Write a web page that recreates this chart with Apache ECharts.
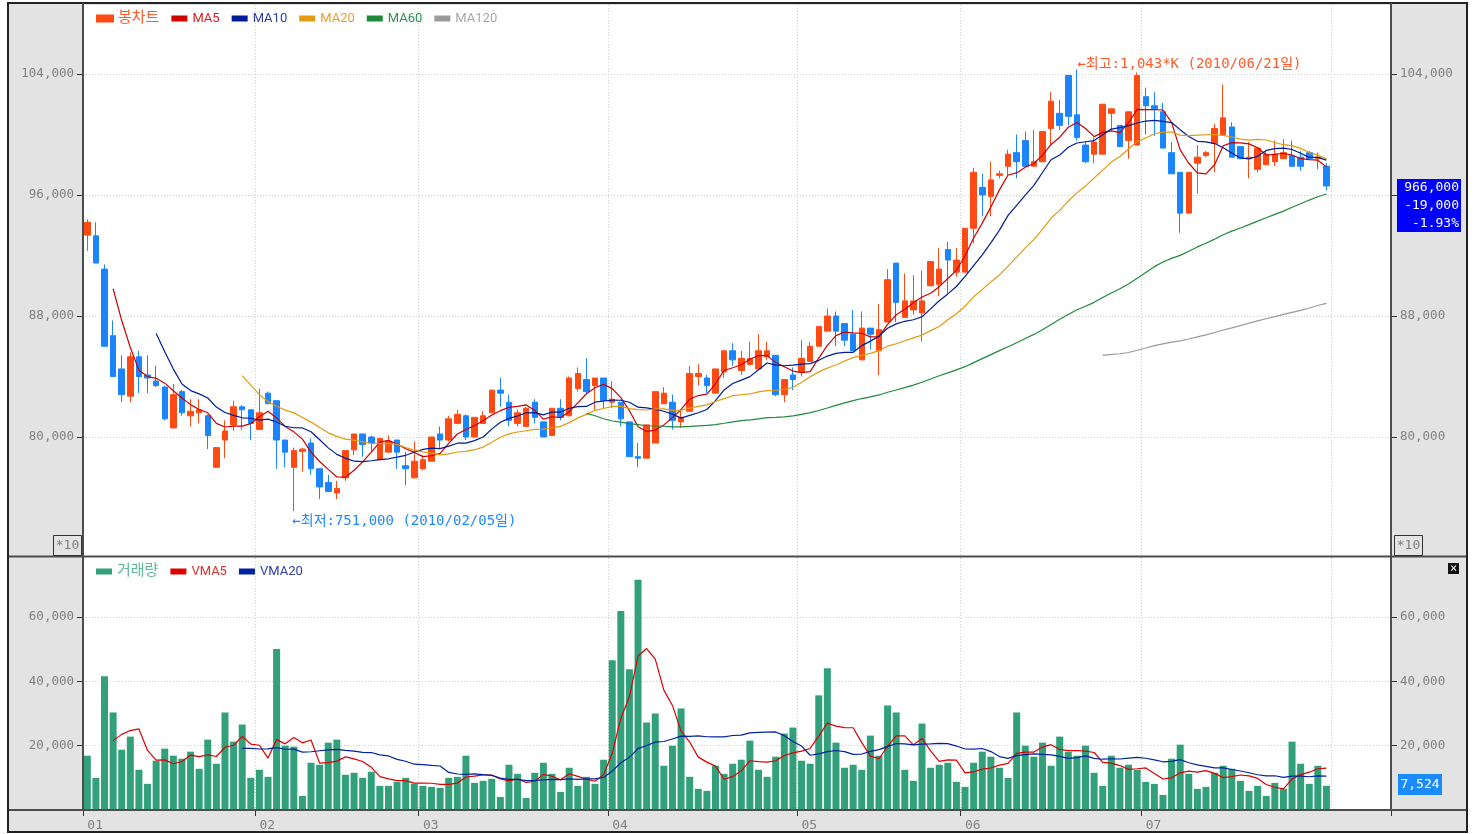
<!DOCTYPE html>
<html>
<head>
<meta charset="utf-8">
<script src="https://cdn.jsdelivr.net/npm/echarts@6/dist/echarts.min.js"></script>
<style>
  html, body { margin: 0; padding: 0; background: #fff; }
  #wrap { position: relative; width: 1476px; height: 834px; }
  #frame { position: absolute; left: 7px; top: 2px; width: 1461px; height: 831px; box-sizing: border-box; border: 2px solid #222; background: #e3e3e3; }
  #chart { position: absolute; left: 0; top: 0; width: 1476px; height: 834px; }
</style>
</head>
<body>
<div id="wrap">
  <div id="frame"></div>
  <div id="chart"></div>
</div>
<script>
// trading days per month (2010.01 - 2010.07), plus empty room on the right
const months = ['01', '02', '03', '04', '05', '06', '07'];
const monthDays = [20, 19, 22, 22, 19, 21, 22];
const padDays = 7;

// last close / volume before the first visible day (used by the moving averages)
const priorClose = 93300;
const priorVolume = 9070;

// [open, close, low, high]
const ohlc = [
  [93350, 94200, 92300, 94400], [93300, 91500, 91500, 94200], [91100, 86000, 86000, 91400], [86700, 84000, 84000, 87700],
  [84500, 82800, 82300, 85400], [82700, 85300, 82300, 85600], [85300, 84000, 82900, 85700], [84100, 83900, 82900, 85400],
  [83700, 83400, 83300, 84700], [83300, 81200, 81100, 83400], [80600, 82800, 80600, 83500], [83000, 81600, 81400, 83100],
  [81400, 81700, 80700, 82500], [81600, 81800, 80900, 82500], [81400, 80100, 79200, 81500], [78000, 79300, 77950, 79300],
  [79800, 80400, 78600, 81100], [80800, 82000, 80400, 82400], [82000, 81800, 80500, 82100], [81800, 80900, 79800, 81800],
  [80500, 81600, 80500, 83200], [82900, 82200, 82200, 83000], [82400, 79800, 77900, 82400], [79800, 79000, 78000, 79800],
  [78000, 79100, 75100, 79300], [79050, 79200, 77700, 79300], [79600, 77900, 77500, 79900], [77900, 76700, 75900, 77900],
  [77000, 76400, 76400, 77500], [76300, 76600, 75900, 77100], [77300, 79100, 77100, 79100], [79150, 80200, 78800, 80200],
  [80200, 79500, 78700, 80200], [80000, 79600, 79000, 80100], [78500, 79900, 78500, 79900], [79000, 79700, 79000, 80100],
  [79800, 79000, 77900, 79800], [78100, 77900, 76800, 79000], [77300, 78400, 77300, 79700], [77900, 78500, 77800, 78800],
  [78400, 80000, 78400, 80000], [80200, 79800, 79200, 80700], [79800, 81200, 79700, 81400], [80900, 81500, 80900, 81800],
  [81400, 80000, 79800, 81500], [80000, 81300, 80000, 81300], [80900, 81400, 80900, 81700], [81600, 83100, 81600, 83100],
  [83100, 82900, 82000, 83900], [82300, 81100, 80700, 82800], [80900, 81600, 80700, 81800], [80700, 81900, 80700, 82000],
  [82300, 81300, 80900, 82500], [81000, 80000, 80000, 81000], [80100, 81900, 80100, 81900], [81900, 81300, 81100, 82500],
  [81400, 83900, 81400, 84000], [83200, 84200, 83000, 84600], [83800, 83000, 82900, 85200], [83400, 83900, 81800, 83900],
  [83900, 82400, 81900, 83900], [82300, 82500, 81900, 83700], [82300, 81200, 80700, 82300], [81000, 78700, 78700, 81000],
  [78700, 78600, 78000, 79600], [78600, 80800, 78600, 80800], [79600, 83000, 79600, 83000], [82200, 82900, 82200, 83300],
  [82300, 81100, 80500, 82800], [81000, 81300, 80600, 81800], [81700, 84200, 81700, 84700], [84000, 84200, 83400, 84800],
  [83900, 83400, 82900, 84100], [82900, 84500, 82900, 84500], [84300, 85700, 83900, 85700], [85700, 85100, 84700, 86200],
  [84400, 85200, 84100, 85700], [84800, 85200, 84800, 86300], [84500, 85700, 84500, 86800], [85300, 85700, 85100, 86300],
  [85400, 82800, 82700, 85400], [82800, 83800, 82300, 83800], [84100, 83800, 83100, 84600], [84300, 85200, 84000, 86400],
  [85000, 86000, 85000, 86300], [86000, 87300, 86000, 87300], [87000, 88000, 87000, 88500], [88000, 87000, 86000, 88300],
  [87500, 86400, 86000, 87500], [86800, 85700, 85700, 88400], [85100, 87200, 85100, 88300], [87200, 86800, 85800, 87200],
  [85700, 87100, 84100, 88800], [87600, 90400, 87600, 91100], [91500, 88900, 87600, 91500], [87900, 89000, 87900, 90800],
  [88400, 89000, 88100, 90700], [88200, 89000, 86300, 91000], [90000, 91600, 90000, 91600], [90100, 91100, 89300, 92500],
  [92400, 91700, 89500, 92900], [90900, 91700, 90600, 92500], [90900, 93800, 90900, 93800], [93800, 97500, 92800, 97800],
  [96500, 96000, 94600, 97400], [95900, 97000, 94600, 98200], [97300, 97400, 97100, 97600], [97900, 98700, 97300, 99000],
  [98800, 98200, 97100, 100000], [99600, 97900, 97900, 100200], [97900, 98200, 97900, 100300], [98200, 100200, 98200, 100200],
  [100400, 102200, 99300, 102800], [101400, 100600, 100300, 102300], [103900, 101200, 100600, 103900], [101300, 99800, 99600, 104300],
  [99300, 98200, 98100, 99500], [98700, 99500, 98100, 99800], [98700, 102000, 98700, 102000], [101400, 101700, 100300, 101700],
  [100600, 99200, 99200, 100600], [99600, 101500, 98400, 101500], [99300, 103900, 99300, 104100], [102500, 101900, 100000, 103100],
  [101900, 101700, 99900, 102800], [101500, 99100, 99100, 102100], [98800, 97400, 97400, 99500], [97500, 94800, 93500, 97500],
  [94800, 97500, 94800, 97500], [98100, 98500, 96100, 99300], [98600, 98800, 98500, 98900], [99400, 100400, 97500, 100700],
  [100000, 101100, 100000, 103300], [100500, 98500, 98500, 100800], [99200, 98400, 98400, 99200], [98400, 98500, 97100, 99500],
  [97700, 99100, 97500, 99100], [98000, 98700, 98000, 98900], [98200, 98700, 97900, 99600], [98400, 98800, 98400, 99700],
  [98600, 97900, 97900, 99600], [98500, 97900, 97600, 98900], [98800, 98400, 98400, 98900], [98400, 98500, 97700, 98800],
  [97900, 96600, 96300, 98100]
];

const volume = [
  16880, 10000, 41580, 30320, 18760, 22820, 12500, 8130, 15320, 19070,
  16880, 15940, 18130, 12820, 21880, 14380, 30320, 21260, 26570, 10000,
  12500, 10320, 50020, 20000, 19690, 4380, 14690, 14070, 20940, 21880,
  10940, 11570, 10000, 11880, 7500, 7500, 8750, 10000, 8130, 7500,
  7190, 6880, 10000, 10320, 16880, 8440, 9070, 9690, 4060, 14070,
  11250, 3750, 11570, 14690, 11250, 5630, 13130, 7500, 10320, 8130,
  15630, 46580, 61890, 43760, 71590, 27200, 30010, 13750, 20000, 31570,
  10320, 6560, 5940, 13750, 11250, 14380, 15630, 21570, 12500, 10320,
  16570, 23760, 25630, 15320, 14380, 35640, 44080, 20940, 13130, 14070,
  12500, 23130, 16880, 32510, 30320, 12500, 9070, 26880, 13130, 14070,
  14690, 8750, 7190, 14690, 18130, 16570, 13130, 10000, 30320, 20000,
  16570, 20940, 13750, 22820, 18130, 16880, 20000, 11570, 7500, 16880,
  13130, 14070, 12500, 8750, 8130, 4690, 15940, 20320, 11250, 6560,
  7190, 11570, 13750, 12820, 9070, 5940, 7500, 4380, 8440, 6560,
  21260, 14380, 8130, 13750, 7524
];

const categories = [];
months.forEach((m, k) => {
  for (let d = 1; d <= monthDays[k]; d++) categories.push(m + '-' + d);
});
for (let d = 1; d <= padDays; d++) categories.push('08-' + d);

function movingAvg(values, prior, n) {
  const all = [prior].concat(values);
  return values.map((_, i) => {
    const end = i + 1;
    if (end - n + 1 < 0) return '-';
    let s = 0;
    for (let k = end - n + 1; k <= end; k++) s += all[k];
    return Math.round(s / n);
  });
}

const closes = ohlc.map(r => r[1]);
const isMonthStart = (idx, val) => val.endsWith('-1');
const isLabelMonth = (idx, val) => val.endsWith('-1') && !val.startsWith('08');

const FONT = 'Roboto, "Noto Sans CJK KR", sans-serif';
const MONO = '"DejaVu Sans Mono", "Noto Sans CJK KR", monospace';
const gridLine = { show: true, showMinLine: false, showMaxLine: false, lineStyle: { color: '#cfcfcf', type: [1, 2], width: 1 } };
const vGridLine = { show: true, interval: isMonthStart, lineStyle: { color: '#cfcfcf', type: [1, 2], width: 1 } };
const fmt = v => v.toLocaleString('en-US');

function yAxis(gridIndex, position, min, max, interval, split) {
  return {
    type: 'value', gridIndex, position, min, max, interval,
    axisLine: { show: false },
    axisTick: { show: true, length: 6, lineStyle: { color: '#333' } },
    axisLabel: { show: true, margin: 9, color: '#808080', fontSize: 12.5, fontFamily: MONO, formatter: fmt, showMinLabel: false, showMaxLabel: false },
    splitLine: split ? gridLine : { show: false }
  };
}

const lineSeries = (name, data, color, x, y) => ({
  name, type: 'line', data, xAxisIndex: x, yAxisIndex: y,
  symbol: 'none', showSymbol: false, smooth: false, silent: true,
  lineStyle: { color, width: 1.2 }, itemStyle: { color }
});

const chart = echarts.init(document.getElementById('chart'), null, { renderer: 'canvas' });

const lineStyleSep = { stroke: '#4d4d4d', lineWidth: 2 };
const txt = (x, y, text, fill, align, size) => ({
  type: 'text', x, y, z: 101, silent: true,
  style: { text, fill, font: size + 'px ' + MONO, align, textAlign: align, verticalAlign: 'middle', textVerticalAlign: 'middle' }
});

chart.setOption({
  animation: false,
  textStyle: { fontFamily: FONT },
  grid: [
    { left: 83, right: 85, top: 5, height: 553, show: true, backgroundColor: '#fff', borderWidth: 0, outerBoundsMode: 'none' },
    { left: 83, right: 85, top: 558, height: 252, show: true, backgroundColor: '#fff', borderWidth: 0, outerBoundsMode: 'none' }
  ],
  legend: [
    {
      left: 96, top: 11, padding: 0, icon: 'rect', itemWidth: 16, itemHeight: 6, itemGap: 12, selectedMode: false,
      textStyle: { fontSize: 13, fontFamily: FONT },
      data: [
        { name: '봉차트', textStyle: { color: '#ff5a28', fontSize: 15 } },
        { name: 'MA5', textStyle: { color: '#d42020' } },
        { name: 'MA10', textStyle: { color: '#2a3fa8' } },
        { name: 'MA20', textStyle: { color: '#e8a030' } },
        { name: 'MA60', textStyle: { color: '#2e9150' } },
        { name: 'MA120', textStyle: { color: '#a8a8a8' } }
      ]
    },
    {
      left: 96, top: 564, padding: 0, icon: 'rect', itemWidth: 16, itemHeight: 6, itemGap: 12, selectedMode: false,
      textStyle: { fontSize: 13, fontFamily: FONT },
      data: [
        { name: '거래량', textStyle: { color: '#5fb896', fontSize: 15 } },
        { name: 'VMA5', textStyle: { color: '#e03030' } },
        { name: 'VMA20', textStyle: { color: '#3040a8' } }
      ]
    }
  ],
  xAxis: [
    {
      type: 'category', gridIndex: 0, data: categories, boundaryGap: true,
      axisLine: { show: false }, axisTick: { show: false }, axisLabel: { show: false },
      splitLine: vGridLine
    },
    {
      type: 'category', gridIndex: 1, data: categories, boundaryGap: true,
      axisLine: { show: true, lineStyle: { color: '#4d4d4d', width: 2 } },
      axisTick: { show: true, interval: isLabelMonth, length: 6, lineStyle: { color: '#333' } },
      axisLabel: { show: true, interval: isLabelMonth, formatter: v => v.slice(0, 2), align: 'left', margin: 9, color: '#808080', fontSize: 13, fontFamily: MONO },
      splitLine: vGridLine
    }
  ],
  yAxis: [
    yAxis(0, 'left', 72000, 108562, 8000, true),
    yAxis(0, 'right', 72000, 108562, 8000, false),
    yAxis(1, 'left', 0, 78340, 20000, true),
    yAxis(1, 'right', 0, 78340, 20000, false)
  ],
  series: [
    {
      name: '봉차트', type: 'candlestick', xAxisIndex: 0, yAxisIndex: 0, data: ohlc, barWidth: 6, silent: true,
      itemStyle: { color: '#ff4a14', color0: '#1a85ff', borderColor: '#ff4a14', borderColor0: '#1a85ff', borderWidth: 1 },
      markPoint: {
        symbol: 'rect', symbolSize: 1, silent: true,
        itemStyle: { color: 'transparent' },
        data: [
          { coord: [115, 104300], label: { show: true, position: 'right', distance: 0, offset: [0, -5], color: '#ff5a28', fontSize: 14, fontFamily: MONO, formatter: '←최고:1,043*K (2010/06/21일)' } },
          { coord: [24, 75100], label: { show: true, position: 'right', distance: 0, offset: [-2, 10], color: '#1e88ff', fontSize: 14, fontFamily: MONO, formatter: '←최저:751,000 (2010/02/05일)' } }
        ]
      }
    },
    lineSeries('MA5', movingAvg(closes, priorClose, 5), '#cc0000', 0, 0),
    lineSeries('MA10', movingAvg(closes, priorClose, 10), '#001b96', 0, 0),
    lineSeries('MA20', movingAvg(closes, priorClose, 20), '#e39a0e', 0, 0),
    lineSeries('MA60', movingAvg(closes, priorClose, 60), '#208a3c', 0, 0),
    lineSeries('MA120', movingAvg(closes, priorClose, 120), '#9a9a9a', 0, 0),
    {
      name: '거래량', type: 'bar', xAxisIndex: 1, yAxisIndex: 2, data: volume, barWidth: 7, silent: true,
      itemStyle: { color: '#33a07c' }
    },
    lineSeries('VMA5', movingAvg(volume, priorVolume, 5), '#dd0000', 1, 2),
    lineSeries('VMA20', movingAvg(volume, priorVolume, 20), '#0022a0', 1, 2)
  ],
  graphic: [
    { type: 'line', z: 100, silent: true, shape: { x1: 83, y1: 3, x2: 83, y2: 810 }, style: lineStyleSep },
    { type: 'line', z: 100, silent: true, shape: { x1: 1391, y1: 3, x2: 1391, y2: 810 }, style: lineStyleSep },
    { type: 'line', z: 100, silent: true, shape: { x1: 9, y1: 556.5, x2: 1466, y2: 556.5 }, style: lineStyleSep },
    { type: 'line', z: 100, silent: true, shape: { x1: 9, y1: 810, x2: 1466, y2: 810 }, style: lineStyleSep },
    { type: 'rect', z: 100, silent: true, shape: { x: 53.5, y: 535.5, width: 28, height: 20 }, style: { fill: '#e3e3e3', stroke: '#333', lineWidth: 1 } },
    txt(67.5, 546, '*10', '#808080', 'center', 13),
    { type: 'rect', z: 100, silent: true, shape: { x: 1394.5, y: 535.5, width: 28, height: 20 }, style: { fill: '#e3e3e3', stroke: '#333', lineWidth: 1 } },
    txt(1408.5, 546, '*10', '#808080', 'center', 13),
    { type: 'rect', z: 100, silent: true, shape: { x: 1448, y: 563, width: 11, height: 11 }, style: { fill: '#111' } },
    txt(1453.5, 568.5, '×', '#fff', 'center', 12),
    { type: 'rect', z: 100, silent: true, shape: { x: 1397, y: 179, width: 64, height: 53 }, style: { fill: '#0000ff' } },
    txt(1459, 188, '966,000', '#fff', 'right', 13),
    txt(1459, 206, '-19,000', '#fff', 'right', 13),
    txt(1459, 224, '-1.93%', '#fff', 'right', 13),
    { type: 'rect', z: 100, silent: true, shape: { x: 1398, y: 774, width: 44, height: 21 }, style: { fill: '#1a8cff' } },
    txt(1420, 785, '7,524', '#fff', 'center', 13)
  ]
});
</script>
</body>
</html>
